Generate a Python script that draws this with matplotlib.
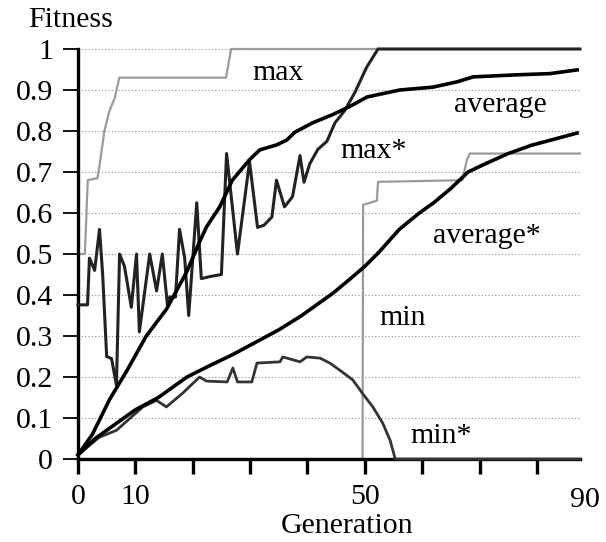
import matplotlib
matplotlib.use('Agg')
import matplotlib.pyplot as plt
import matplotlib.transforms as mtransforms

plt.rcParams['font.family'] = ['Liberation Serif', 'DejaVu Serif']

# generation / fitness pairs
max_gen = [0, 1.2, 1.7, 3.4, 3.8, 4.6, 5.5, 6.4, 7.2, 25.8, 26.7, 87.5]
max_fit = [0.5, 0.5, 0.68, 0.685, 0.72, 0.80, 0.85, 0.88, 0.93, 0.93, 1.0, 1.0]

min_gen = [0, 49.6, 49.7, 52.1, 52.3, 67.0, 67.8, 68.3, 87.5]
min_fit = [0.0, 0.0, 0.62, 0.63, 0.676, 0.68, 0.73, 0.745, 0.745]

maxs_gen = [0, 1.66, 2.0, 2.9, 3.75, 4.3, 5.0, 5.85, 6.7, 7.25, 8.1, 9.3, 10.2, 10.7,
            12.5, 13.7, 14.7, 15.6, 16.0, 17.0, 17.7, 18.6, 19.3, 20.7, 21.5, 23.0,
            25.0, 25.9, 27.8, 29.9, 31.3, 32.4, 33.8, 34.6, 36.0, 37.4, 38.7, 39.4,
            40.4, 41.8, 43.4, 44.8, 46.5, 48.3, 50.3, 52.3, 87.5]
maxs_fit = [0.376, 0.376, 0.49, 0.46, 0.56, 0.45, 0.25, 0.245, 0.18, 0.50, 0.47, 0.37,
            0.50, 0.31, 0.50, 0.41, 0.50, 0.375, 0.395, 0.395, 0.56, 0.49, 0.35, 0.625,
            0.44, 0.445, 0.45, 0.745, 0.50, 0.725, 0.565, 0.57, 0.59, 0.68, 0.615, 0.64,
            0.74, 0.675, 0.72, 0.755, 0.775, 0.82, 0.85, 0.895, 0.955, 1.0, 1.0]

mins_gen = [0, 3.7, 6.7, 11.3, 13.7, 15.4, 18.2, 21.2, 22.4, 26.0, 27.0, 27.8, 30.3,
            31.2, 35.2, 35.7, 38.7, 39.9, 42.2, 43.9, 45.6, 47.9, 49.6, 51.4, 53.1,
            54.4, 55.3, 87.5]
mins_fit = [0.01, 0.053, 0.07, 0.127, 0.143, 0.127, 0.16, 0.20, 0.19, 0.188, 0.222,
            0.188, 0.188, 0.234, 0.237, 0.249, 0.237, 0.249, 0.246, 0.234, 0.217, 0.193,
            0.16, 0.127, 0.088, 0.046, 0.0, 0.0]

avg_gen = [0, 2.5, 5.5, 8.5, 11.9, 15.4, 18.9, 21.2, 22.4, 24.0, 24.7, 26.9, 29.9, 31.7,
           34.6, 36.4, 37.8, 40.9, 44.4, 47.4, 50.4, 56.1, 61.9, 66.1, 68.9, 76.5, 82.3, 87.0]
avg_fit = [0.01, 0.06, 0.145, 0.215, 0.30, 0.365, 0.455, 0.53, 0.566, 0.60, 0.615, 0.68,
           0.73, 0.754, 0.766, 0.778, 0.797, 0.82, 0.84, 0.86, 0.883, 0.90, 0.907, 0.92,
           0.932, 0.937, 0.94, 0.949]

avgs_gen = [0, 3, 6, 10, 14, 19, 23, 27, 31, 35, 39, 42, 44.5, 47.5, 50, 52.5, 56, 59.5,
            62, 65, 68, 71, 75, 79, 83, 87]
avgs_fit = [0.01, 0.05, 0.08, 0.12, 0.15, 0.20, 0.228, 0.255, 0.285, 0.315, 0.35, 0.38,
            0.405, 0.44, 0.47, 0.505, 0.56, 0.60, 0.625, 0.66, 0.70, 0.72, 0.745, 0.765,
            0.78, 0.795]

labels = ['max', 'average', 'max*', 'average*', 'min', 'min*']
label_gen = [34.8, 73.7, 51.6, 71.3, 56.6, 63.3]
label_fit = [0.924, 0.846, 0.734, 0.527, 0.327, 0.039]

fig = plt.figure(figsize=(6.06, 5.42), dpi=100)
ax = fig.add_axes([0.1287, 0.1531, 0.8283, 0.7565])

for yv in [i / 10 for i in range(11)]:
    ax.plot([0, 87.5], [yv, yv], color='#8a8a8a', lw=0.8, ls=(0, (1, 2)), zorder=1)

ax.plot(max_gen, max_fit, color='#9a9a9a', lw=1.6, zorder=2, clip_on=False)
ax.plot(min_gen, min_fit, color='#9a9a9a', lw=1.6, zorder=2, clip_on=False)
ax.plot(mins_gen, mins_fit, color='#333333', lw=2.0, zorder=3, clip_on=False)
ax.plot(maxs_gen, maxs_fit, color='#222222', lw=2.2, zorder=3, clip_on=False)
ax.plot(avg_gen, avg_fit, color='black', lw=2.6, zorder=4, clip_on=False)
ax.plot(avgs_gen, avgs_fit, color='black', lw=2.6, zorder=4, clip_on=False)

for txt, gx, fy in zip(labels, label_gen, label_fit):
    ax.text(gx, fy, txt, fontsize=21.5, ha='center', va='baseline', zorder=5)

ax.set_xlim(0, 87.5)
ax.set_ylim(0, 1)
for s in ['top', 'right']:
    ax.spines[s].set_visible(False)
for s in ['left', 'bottom']:
    ax.spines[s].set_linewidth(2.4)

ax.set_yticks([i / 10 for i in range(11)])
ax.set_yticklabels(['0', '0.1', '0.2', '0.3', '0.4', '0.5', '0.6', '0.7', '0.8', '0.9', '1'])
ax.set_xticks(range(0, 90, 10))
ax.set_xticklabels(['0', '10', '', '', '', '50', '', '', ''])
ax.tick_params(axis='y', direction='out', length=11, width=1.3, pad=7, labelsize=21.5)
ax.tick_params(axis='x', direction='out', length=11, width=2.4, pad=7, labelsize=21.5)

trans = mtransforms.blended_transform_factory(ax.transData, ax.transAxes)
ax.text(88.3, -0.068, '90', fontsize=21.5, ha='center', va='top', transform=trans)

ax.text(0.536, -0.18, 'Generation', fontsize=21.5, ha='center', va='baseline',
        transform=ax.transAxes)
ax.text(-0.014, 1.054, 'Fitness', fontsize=21.5, ha='center', va='baseline',
        transform=ax.transAxes)

plt.savefig('out.png', dpi=100)
